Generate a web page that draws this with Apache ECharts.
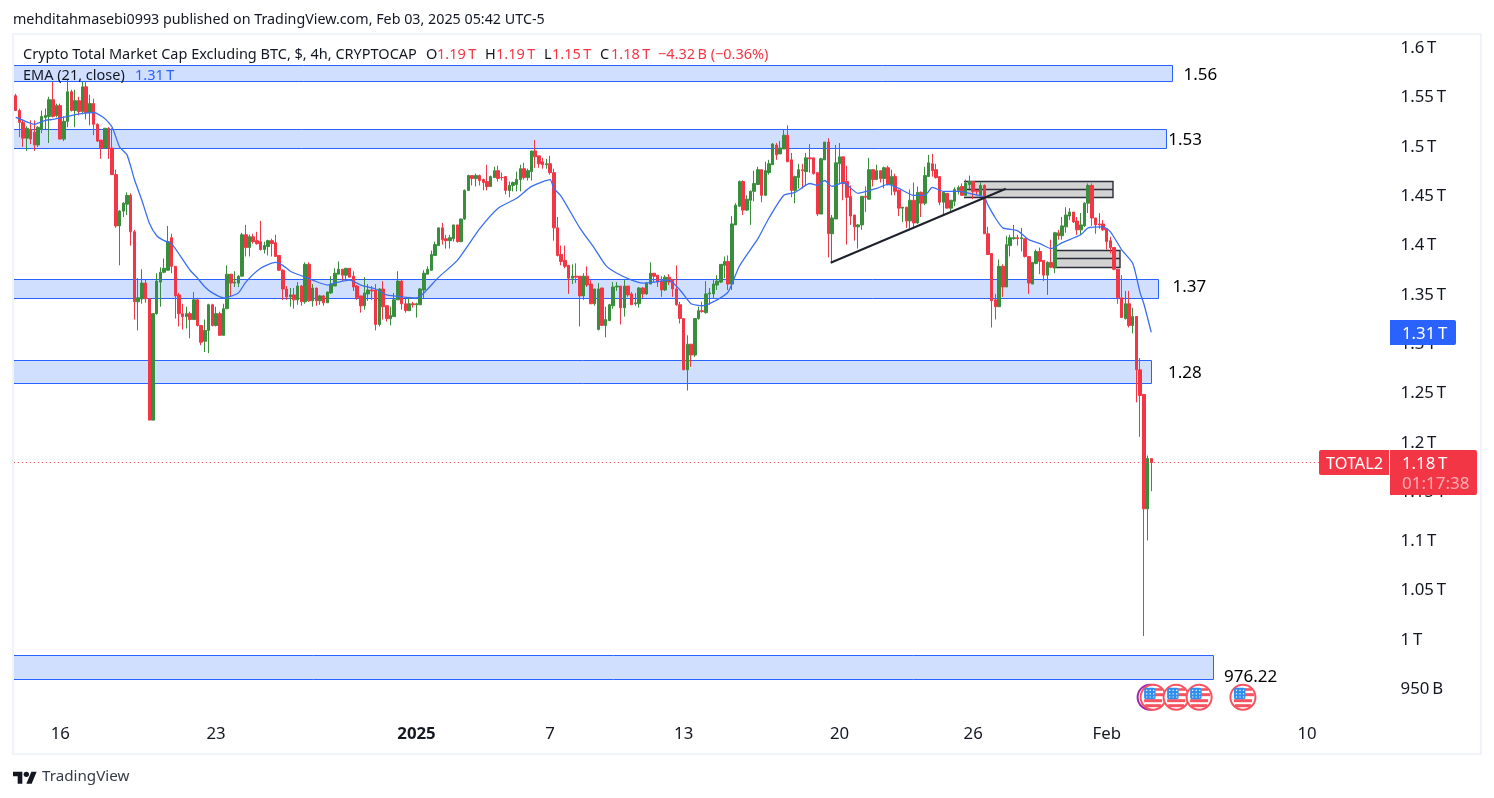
<!DOCTYPE html>
<html><head><meta charset="utf-8">
<script src="https://cdn.jsdelivr.net/npm/echarts@6/dist/echarts.min.js"></script>
<style>html,body{margin:0;padding:0;background:#fff}#c{width:1494px;height:798px}</style>
</head><body><div id="c"></div>
<script>
// All prices in billions of USD (TOTAL2, 4h bars from 14 Dec 2024 03:00 UTC-5)
const opens=[1552,1537,1525,1509,1518,1515,1502,1518,1530,1531,
1548,1532,1542,1508,1526,1556,1537,1547,1536,1561,
1535,1544,1523,1507,1499,1519,1499,1472,1420,1435,
1442,1451,1414,1343,1346,1362,1346,1223,1331,1363,
1373,1375,1408,1379,1350,1331,1328,1331,1325,1345,
1319,1303,1314,1340,1319,1331,1309,1336,1371,1362,
1362,1369,1411,1398,1409,1405,1404,1396,1399,1405,
1403,1390,1375,1356,1348,1350,1345,1359,1343,1381,
1344,1357,1344,1349,1342,1352,1359,1371,1376,1370,
1377,1369,1359,1349,1339,1351,1355,1355,1320,1356,
1339,1326,1328,1345,1364,1341,1334,1341,1340,1340,
1355,1371,1375,1390,1400,1418,1407,1405,1407,1421,
1404,1427,1456,1471,1468,1471,1467,1465,1460,1469,
1476,1469,1470,1456,1461,1462,1467,1478,1469,1475,
1496,1491,1485,1482,1483,1474,1418,1391,1385,1380,
1367,1369,1369,1349,1369,1361,1341,1315,1357,1319,
1324,1339,1358,1359,1337,1359,1351,1341,1341,1357,
1351,1361,1372,1370,1364,1355,1368,1365,1356,1340,
1326,1274,1300,1289,1326,1334,1332,1351,1351,1360,
1363,1380,1384,1361,1421,1440,1465,1436,1446,1455,
1462,1477,1451,1474,1482,1502,1493,1498,1512,1487,
1456,1469,1477,1475,1489,1489,1474,1432,1487,1505,
1412,1427,1483,1490,1465,1450,1431,1419,1421,1450,
1447,1477,1467,1476,1468,1479,1462,1470,1456,1438,
1439,1425,1446,1423,1454,1443,1470,1483,1477,1470,
1444,1453,1438,1445,1456,1460,1451,1462,1465,1456,
1451,1461,1412,1392,1345,1338,1379,1358,1400,1407,
1408,1407,1407,1389,1361,1382,1394,1385,1370,1383,
1378,1413,1410,1419,1430,1434,1425,1416,1420,1443,
1461,1428,1422,1422,1417,1405,1398,1376,1347,1326,
1341,1319,1328,1274,1249,1133,1184];
const highs=[1554,1539,1528,1521,1527,1527,1521,1537,1539,1551,
1566,1544,1544,1531,1569,1558,1558,1551,1566,1567,
1553,1549,1524,1507,1519,1520,1519,1477,1436,1444,
1454,1453,1416,1367,1376,1366,1346,1331,1372,1378,
1387,1420,1412,1379,1352,1341,1338,1333,1353,1347,
1319,1325,1341,1341,1338,1333,1341,1380,1371,1374,
1370,1413,1421,1411,1412,1414,1425,1404,1406,1407,
1411,1390,1376,1359,1357,1357,1363,1360,1383,1383,
1361,1357,1350,1350,1353,1369,1377,1384,1376,1377,
1377,1374,1360,1349,1368,1361,1359,1361,1357,1364,
1339,1338,1352,1374,1365,1346,1347,1343,1342,1357,
1375,1379,1395,1404,1418,1423,1411,1411,1421,1421,
1427,1457,1472,1471,1473,1472,1468,1482,1471,1480,
1481,1474,1470,1465,1465,1475,1482,1484,1478,1496,
1507,1491,1489,1488,1491,1478,1429,1400,1400,1380,
1381,1382,1369,1372,1379,1365,1356,1362,1357,1338,
1341,1363,1363,1359,1365,1359,1353,1352,1358,1358,
1363,1383,1372,1370,1369,1370,1371,1366,1380,1343,
1326,1309,1300,1326,1338,1343,1364,1357,1366,1370,
1381,1389,1390,1430,1443,1466,1466,1451,1456,1476,
1480,1477,1485,1487,1504,1504,1506,1518,1522,1494,
1471,1483,1483,1494,1503,1489,1474,1489,1505,1509,
1431,1502,1504,1490,1481,1461,1431,1422,1450,1460,
1489,1477,1482,1476,1480,1481,1477,1473,1457,1439,
1439,1457,1464,1460,1455,1480,1492,1493,1483,1470,
1455,1453,1446,1459,1461,1463,1467,1471,1465,1456,
1464,1462,1419,1392,1351,1386,1381,1410,1411,1421,
1411,1418,1407,1389,1383,1396,1398,1385,1384,1406,
1414,1416,1429,1439,1438,1434,1429,1433,1444,1463,
1463,1428,1433,1426,1417,1409,1398,1376,1370,1354,
1354,1337,1328,1286,1249,1187,1184];
const lows=[1537,1510,1500,1496,1503,1496,1500,1514,1518,1504,
1530,1530,1508,1506,1520,1536,1520,1532,1533,1528,
1522,1512,1505,1488,1499,1488,1472,1418,1380,1429,
1431,1400,1325,1314,1341,1342,1223,1223,1330,1338,
1372,1375,1372,1326,1318,1315,1316,1306,1325,1318,
1299,1292,1291,1318,1318,1309,1309,1336,1348,1358,
1358,1369,1389,1389,1402,1401,1395,1392,1390,1389,
1389,1375,1345,1345,1338,1336,1340,1339,1341,1343,
1338,1339,1340,1339,1342,1351,1359,1371,1364,1366,
1368,1354,1345,1332,1335,1344,1345,1314,1318,1325,
1323,1319,1328,1345,1335,1332,1334,1337,1327,1340,
1346,1371,1375,1390,1400,1401,1397,1397,1404,1403,
1404,1426,1456,1461,1460,1461,1456,1456,1460,1469,
1465,1466,1452,1449,1455,1455,1455,1467,1466,1466,
1479,1479,1478,1478,1472,1405,1389,1380,1377,1351,
1361,1362,1318,1345,1358,1341,1339,1314,1319,1307,
1324,1336,1354,1320,1328,1348,1340,1339,1337,1347,
1350,1361,1363,1358,1348,1354,1360,1348,1339,1321,
1274,1253,1277,1287,1325,1332,1331,1340,1346,1355,
1362,1367,1355,1355,1421,1439,1431,1435,1421,1445,
1462,1444,1451,1472,1482,1487,1493,1498,1485,1449,
1443,1458,1458,1461,1474,1472,1430,1432,1487,1388,
1383,1427,1462,1446,1401,1421,1405,1397,1416,1434,
1447,1460,1467,1464,1458,1461,1451,1451,1430,1424,
1418,1417,1417,1422,1429,1441,1470,1470,1468,1441,
1432,1438,1434,1440,1452,1451,1451,1457,1447,1451,
1451,1412,1391,1317,1325,1338,1348,1358,1389,1406,
1400,1394,1388,1351,1361,1381,1371,1364,1350,1377,
1372,1406,1406,1413,1426,1423,1411,1411,1419,1433,
1420,1412,1417,1415,1396,1392,1375,1341,1327,1325,
1317,1311,1241,1206,1004,1101,1151];
const closes=[1537,1525,1509,1519,1508,1502,1520,1531,1532,1548,
1531,1542,1508,1526,1556,1537,1547,1536,1561,1535,
1544,1523,1506,1499,1519,1499,1472,1420,1435,1443,
1451,1414,1343,1347,1362,1346,1223,1331,1364,1373,
1377,1404,1379,1349,1331,1328,1331,1325,1345,1319,
1302,1314,1340,1319,1331,1309,1336,1371,1362,1363,
1369,1411,1398,1409,1404,1402,1396,1400,1405,1402,
1389,1375,1356,1348,1350,1345,1359,1343,1381,1344,
1357,1344,1349,1342,1353,1361,1372,1376,1370,1377,
1368,1358,1347,1339,1352,1355,1354,1320,1356,1338,
1326,1329,1345,1364,1341,1334,1341,1340,1341,1356,
1372,1376,1391,1401,1418,1406,1405,1408,1421,1404,
1427,1456,1471,1468,1471,1466,1464,1460,1470,1476,
1468,1469,1456,1461,1464,1467,1478,1469,1476,1496,
1490,1483,1482,1483,1474,1418,1390,1384,1379,1367,
1369,1368,1349,1369,1360,1341,1356,1356,1319,1325,
1340,1358,1359,1337,1359,1350,1340,1342,1357,1351,
1362,1372,1369,1363,1355,1368,1363,1356,1340,1326,
1274,1300,1289,1326,1334,1333,1351,1352,1361,1364,
1381,1384,1361,1422,1441,1465,1436,1447,1455,1463,
1477,1451,1476,1483,1503,1492,1499,1512,1485,1456,
1470,1477,1476,1489,1488,1473,1432,1488,1505,1412,
1428,1484,1490,1463,1449,1430,1419,1421,1450,1449,
1477,1467,1476,1468,1479,1462,1470,1455,1438,1439,
1425,1446,1423,1454,1443,1471,1484,1476,1469,1444,
1454,1438,1446,1457,1459,1451,1463,1465,1455,1455,
1461,1412,1391,1344,1338,1379,1358,1401,1408,1408,
1407,1408,1389,1362,1383,1394,1384,1370,1383,1378,
1413,1410,1420,1431,1434,1424,1416,1421,1443,1461,
1428,1421,1421,1416,1404,1398,1376,1347,1327,1341,
1319,1328,1274,1248,1133,1184,1180];
// EMA(21) at these bar numbers
const emaBars=[0,2,5,8,10,14,18,21,24,26,28,30,32,34,36,38,40,42,47,49,51,53,56,60,62,66,70,72,74,78,80,84,87,90,93,97,100,104,108,110,114,119,125,130,135,139,144,145,147,152,156,159,162,166,169,172,176,179,182,185,189,192,195,200,203,207,210,214,216,218,220,223,227,232,235,238,242,245,247,250,254,257,261,262,264,266,270,273,276,279,282,287,289,293,295,298,301,303,304,306];
const emaValues=[1530,1527,1523,1527,1528,1531,1534,1535,1529,1520,1500,1492,1467,1446,1423,1410,1405,1402,1375,1367,1358,1352,1347,1352,1363,1377,1383,1380,1374,1368,1365,1360,1363,1365,1360,1356,1350,1348,1347,1352,1368,1385,1417,1438,1448,1460,1467,1458,1450,1418,1397,1380,1372,1365,1362,1363,1365,1355,1341,1339,1345,1353,1379,1407,1428,1451,1454,1463,1461,1466,1460,1464,1453,1458,1462,1458,1451,1451,1459,1455,1455,1453,1449,1441,1428,1418,1415,1406,1402,1397,1403,1411,1418,1419,1414,1396,1382,1352,1341,1312];
// Support/resistance zones: [last bar, top, bottom]
const bandEnds=[311.6,310,307.8,306,322.7];
const bandTops=[1582.7,1518.2,1366.1,1284,984.8];
const bandBottoms=[1566.9,1499,1346.9,1260.6,960.4];
const bandLabels=['1.56','1.53','1.37','1.28','976.22'];
const bandLabelBars=[314.7,310.6,311.7,310.5,325.6];
const bandLabelPrices=[1574,1508,1359,1272,963.5];
// Gray boxes: [start bar, end bar, top, middle, bottom]
const boxStarts=[255.5,279.6];
const boxEnds=[295.7,297.6];
const boxTops=[1465.3,1395.2];
const boxMids=[1457.1,1387.1];
const boxBottoms=[1449,1378.6];
const trendBars=[219.6,266.8];
const trendPrices=[1382.6,1457.7];
const lastPrice=1180.4;
const flagBars=[306.5,312.7,318.9,330.7];
const flagPrice=942;
const yTickValues=[950,1000,1050,1100,1150,1200,1250,1300,1350,1400,1450,1500,1550,1600];
const yTickLabels=['950\u2009B','1\u2009T','1.05\u2009T','1.1\u2009T','1.15\u2009T','1.2\u2009T','1.25\u2009T','1.3\u2009T','1.35\u2009T','1.4\u2009T','1.45\u2009T','1.5\u2009T','1.55\u2009T','1.6\u2009T'];
const xTickBars=[12,54,108,144,180,222,258,294,348];
const xTickLabels=['16','23','2025','7','13','20','26','Feb','10'];

const BARS=371, STEP=3.711, LEFT=13.84;
const FONT='"Noto Sans", sans-serif';
const categories=[];
for(let i=0;i<BARS;i++) categories.push(new Date(Date.UTC(2024,11,14,8+4*i)).toISOString().slice(0,16));
const candles=opens.map((o,i)=>[o,closes[i],lows[i],highs[i]]);
const ink='#131722', red='#f23645', blue='#2962ff';

function T(text,x,y,size,fill,extra){return Object.assign({type:'text',x,y,z:50,silent:true,style:{text,fill,font:`${size}px ${FONT}`,align:'left',verticalAlign:'middle'}},extra||{});}
function flag(api){
  const p=api.coord([api.value(0),api.value(1)]);
  const purple=api.value(2)===1;
  const kids=[];
  if(purple) kids.push({type:'circle',shape:{cx:-3,cy:0,r:12.5},style:{fill:'#fff',stroke:'#9c27b0',lineWidth:2}});
  kids.push({type:'circle',shape:{cx:0,cy:0,r:12.5},style:{fill:'#fff',stroke:'#f7525f',lineWidth:2}});
  [[2,-9,7,2.6],[2,-4,9,3],[-9,2,18,3],[-8,7,16,3]].forEach(r=>kids.push({type:'rect',shape:{x:r[0],y:r[1],width:r[2],height:r[3]},style:{fill:'#f7525f'}}));
  kids.push({type:'rect',shape:{x:-9,y:-9.5,width:11.5,height:11.5,r:2},style:{fill:'#2f8fee'}});
  [-7,-3.5,0].forEach(dx=>[-7.5,-4,-0.8].forEach(dy=>kids.push({type:'rect',shape:{x:dx,y:dy,width:1.2,height:1.2},style:{fill:'#fff'}})));
  return {type:'group',x:p[0],y:p[1],children:kids};
}

const chart=echarts.init(document.getElementById('c'),null,{renderer:'canvas'});
chart.setOption({
  animation:false,
  backgroundColor:'#fff',
  grid:{left:LEFT,top:48.4,width:BARS*STEP,height:640.9,containLabel:false},
  xAxis:[{
    type:'category',data:categories,boundaryGap:true,
    axisLine:{show:false},axisTick:{show:false},splitLine:{show:false},
    axisLabel:{
      margin:36,fontSize:16.8,color:ink,fontFamily:FONT,hideOverlap:false,
      interval:(i)=>xTickBars.includes(i),
      formatter:(v,i)=>{const k=xTickBars.indexOf(i);if(k<0)return '';const s=xTickLabels[k];return s==='2025'?`{b|${s}}`:s;},
      rich:{b:{fontWeight:'bold',fontSize:16.8,color:ink,fontFamily:FONT}}
    }
  },{type:'value',show:false,min:-0.5,max:BARS-0.5,splitLine:{show:false}}],
  yAxis:{
    type:'value',position:'right',min:950,max:1600,interval:50,
    axisLine:{show:false},axisTick:{show:false},splitLine:{show:false},
    axisLabel:{margin:10,fontSize:16.8,color:ink,fontFamily:FONT,align:'left',padding:[2,0,0,0],
      formatter:v=>yTickLabels[yTickValues.indexOf(v)]||''}
  },
  series:[
    {type:'custom',xAxisIndex:1,z:1,silent:true,clip:false,
      data:bandEnds.map((e,i)=>[e,bandTops[i],bandBottoms[i]]),
      encode:{x:0,y:[1,2]},
      renderItem:(params,api)=>{
        const a=api.coord([api.value(0),api.value(1)]),b=api.coord([api.value(0),api.value(2)]);
        return {type:'rect',shape:{x:13.5,y:Math.round(a[1])+.5,width:Math.round(a[0])-13,height:Math.round(b[1]-a[1])},
          style:{fill:'#d1dfff',stroke:blue,lineWidth:1}};
      }},
    {type:'custom',xAxisIndex:1,z:2,silent:true,clip:false,
      data:boxStarts.map((s,i)=>[s,boxEnds[i],boxTops[i],boxMids[i],boxBottoms[i]]),
      encode:{x:[0,1],y:[2,3,4]},
      renderItem:(params,api)=>{
        const a=api.coord([api.value(0),api.value(2)]),b=api.coord([api.value(1),api.value(4)]),m=api.coord([api.value(0),api.value(3)]);
        const x0=Math.round(a[0]),x1=Math.round(b[0]),t=Math.round(a[1])+.5,bt=Math.round(b[1])+.5,mi=Math.round(m[1])+.5;
        const ls={stroke:'#2a2e39',lineWidth:1.4,fill:null};
        return {type:'group',children:[
          {type:'rect',shape:{x:x0,y:t,width:x1-x0,height:bt-t},style:{fill:'#d3d3d3'}},
          {type:'polyline',shape:{points:[[x0,t],[x1,t],[x1,bt],[x0,bt]]},style:ls},
          {type:'line',shape:{x1:x0,y1:mi,x2:x1,y2:mi},style:ls}
        ]};
      }},
    {type:'candlestick',xAxisIndex:0,z:3,barWidth:3,data:candles,silent:true,
      itemStyle:{color:'#388e3c',color0:red,borderColor:'#388e3c',borderColor0:red,borderColorDoji:red,borderWidth:1},
      markLine:{silent:true,symbol:'none',animation:false,label:{show:false},
        lineStyle:{color:red,type:[1,3],width:1},data:[{yAxis:lastPrice}]}},
    {type:'line',xAxisIndex:1,z:4,silent:true,showSymbol:false,smooth:0.2,
      data:emaBars.map((b,i)=>[b,emaValues[i]]),lineStyle:{color:'#3a6ff0',width:1.3}},
    {type:'line',xAxisIndex:1,z:5,silent:true,showSymbol:false,
      data:trendBars.map((b,i)=>[b,trendPrices[i]]),lineStyle:{color:'#1e222d',width:2}},
    {type:'custom',xAxisIndex:1,z:6,silent:true,clip:false,
      data:bandLabels.map((l,i)=>[bandLabelBars[i],bandLabelPrices[i]]),
      encode:{x:0,y:1},
      renderItem:(params,api)=>{
        const p=api.coord([api.value(0),api.value(1)]);
        return {type:'text',x:p[0],y:p[1]+1,style:{text:bandLabels[params.dataIndex],fill:'#000',font:`17px ${FONT}`,align:'left',verticalAlign:'middle'}};
      }},
    {type:'custom',xAxisIndex:1,z:7,silent:true,clip:false,
      data:flagBars.map((b,i)=>[b,flagPrice,i===0?1:0]),
      encode:{x:0,y:1},renderItem:(params,api)=>flag(api)}
  ],
  graphic:{elements:[
    {type:'rect',z:40,silent:true,shape:{x:13,y:34,width:1468,height:720},style:{fill:null,stroke:'#f0f3fa',lineWidth:2}},
    T('mehditahmasebi0993 published on TradingView.com, Feb 03, 2025 05:42 UTC-5',13,20,14.3,ink),
    T('Crypto Total Market Cap Excluding BTC, $, 4h, CRYPTOCAP',23,55,14.5,ink),
    T('O',426,55,14.5,ink),T('1.19\u2009T',437,55,14.5,red),
    T('H',485,55,14.5,ink),T('1.19\u2009T',496,55,14.5,red),
    T('L',544,55,14.5,ink),T('1.15\u2009T',552,55,14.5,red),
    T('C',600,55,14.5,ink),T('1.18\u2009T',611,55,14.5,red),
    T('\u22124.32\u2009B (\u22120.36%)',658,55,14.5,red),
    T('EMA (21, close)',23,76,14.5,ink),T('1.31\u2009T',135,76,14.5,blue),
    {type:'rect',z:45,silent:true,shape:{x:1390,y:320,width:66,height:25,r:[0,2,2,0]},style:{fill:blue}},
    T('1.31\u2009T',1402,334,16.8,'#fff',{z:46}),
    {type:'rect',z:45,silent:true,shape:{x:1319,y:450,width:70,height:25,r:[2,0,0,2]},style:{fill:red}},
    T('TOTAL2',1326,464,16.3,'#fff',{z:46}),
    {type:'rect',z:45,silent:true,shape:{x:1390,y:450,width:87,height:45,r:[0,2,2,0]},style:{fill:red}},
    T('1.18\u2009T',1402,464,16.8,'#fff',{z:46}),
    T('01:17:38',1402,484,17,'rgba(255,255,255,0.6)',{z:46}),
    {type:'group',x:13,y:769,scaleX:24/36,scaleY:24/36,z:50,silent:true,children:[
      {type:'polygon',shape:{points:[[0,4],[14,4],[14,22],[7,22],[7,11],[0,11]]},style:{fill:ink}},
      {type:'polygon',shape:{points:[[20,22],[28,22],[35.5,4],[27.5,4]]},style:{fill:ink}},
      {type:'circle',shape:{cx:20,cy:8,r:4},style:{fill:ink}}
    ]},
    T('TradingView',42,777,15.2,'#363a45')
  ]}
});
</script></body></html>
